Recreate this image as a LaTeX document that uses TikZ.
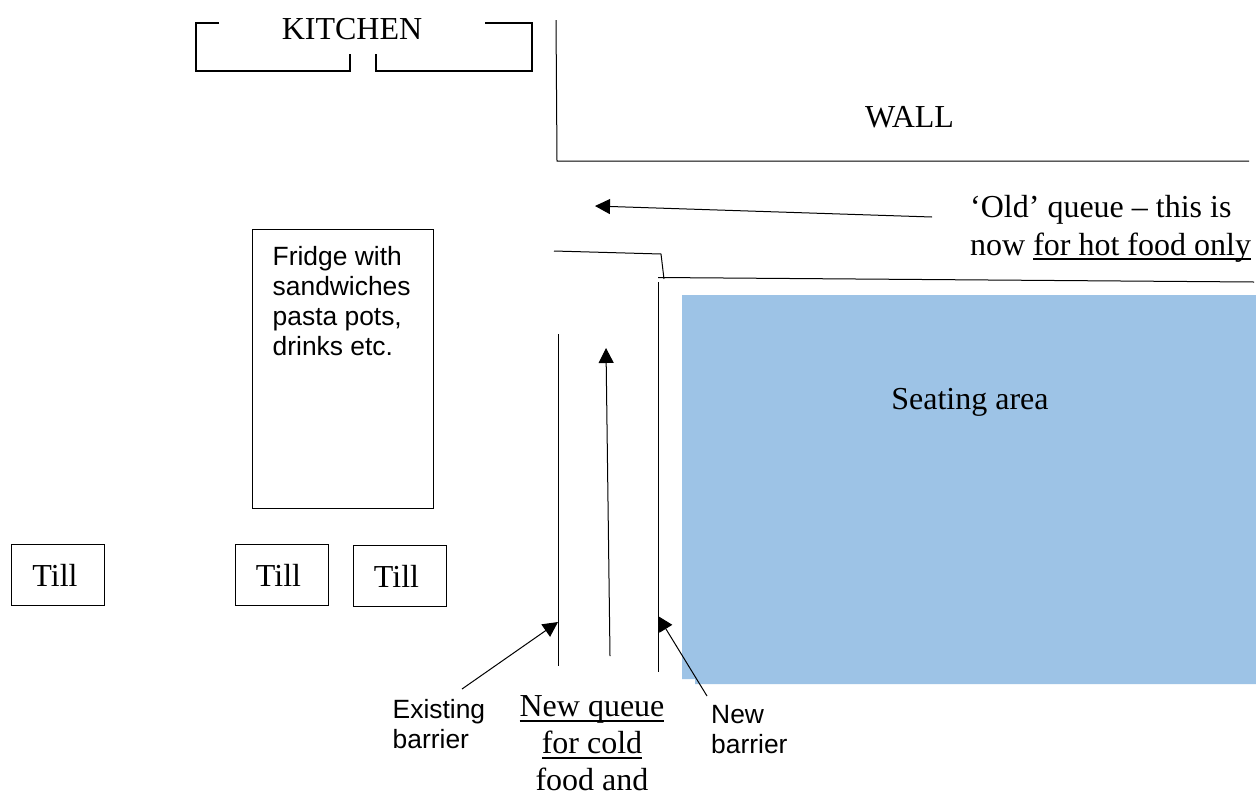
\documentclass[tikz,border=0pt]{standalone}
\usepackage{fontspec}
\setmainfont{Liberation Serif}
\newfontfamily\arialf{Liberation Sans}
\usetikzlibrary{arrows.meta}
\newcommand\ulin[2][-6pt]{\setbox0\hbox{#2}\rlap{\rule[#1]{\wd0}{2pt}}\box0}
\begin{document}
\begin{tikzpicture}[x=1pt,y=-1pt,
 ln/.style={draw=black,line width=1pt},
 thk/.style={draw=black,line width=2pt},
 arr/.style={ln,-{Triangle[length=15pt,width=15pt]}},
 ser/.style={inner sep=0pt,font=\fontsize{32}{37}\selectfont,align=center},
 san/.style={inner sep=0pt,font=\arialf\fontsize{26.4}{30}\selectfont,align=left},
 boxn/.style={ln,fill=white,inner sep=0pt}]
\useasboundingbox (0,0) rectangle (1256,796);
\fill[fill=white] (0,0) rectangle (1256,796);
\fill[fill={rgb,255:red,157;green,195;blue,230}] (682,295) -- (1256,295) -- (1256,684) -- (695,684) -- (695,679) -- (682,679) -- cycle;
% kitchen
\draw[thk] (219,23) -- (196,23) -- (196,71) -- (350,71) -- (350,54);
\draw[thk] (376,54) -- (376,71) -- (532,71) -- (532,23) -- (485,23);
\node[ser] (kit) at (352,29) {KITCHEN};
% wall
\coordinate (w1) at (556,20); \coordinate (w2) at (557,161); \coordinate (w3) at (1249,161);
\draw[ln] (w1) -- (w2) -- (w3);
\node[ser] (wall) at (909.5,117) {WALL};
% old queue
\coordinate (oq1) at (932,217); \coordinate (oq2) at (595,206);
\draw[arr] (oq1) -- (oq2);
\node[ser,anchor=north west,align=left,font=\fontsize{32}{38}\selectfont] (old) at (970,195) {`Old' queue -- this is\\now \ulin[-4.5pt]{for hot food only}};
% barriers top
\coordinate (b1) at (554,251); \coordinate (b2) at (661,254); \coordinate (b3) at (664,279);
\coordinate (b5) at (658,277.5); \coordinate (b4) at (1254,282);
\draw[ln] (b1) -- (b2) -- (b3);
\draw[ln] (b5) -- (b4);
% fridge
\node[boxn,minimum width=180.5pt,minimum height=279pt,anchor=north west] (fr) at (252,229) {};
\node[san,anchor=north west] (frt) at (272.5,246) {Fridge with\\sandwiches\\pasta pots,\\drinks etc.};
% tills
\node[boxn,ser,minimum width=92.5pt,minimum height=60.5pt] (t1) at (58,575) {Till\hspace{6pt}};
\node[boxn,ser,minimum width=92.5pt,minimum height=60.5pt] (t2) at (282,575) {Till\hspace{7pt}};
\node[boxn,ser,minimum width=92.5pt,minimum height=60.5pt] (t3) at (400,576) {Till\hspace{7pt}};
% barriers
\coordinate (e1) at (558,334); \coordinate (e2) at (558,666);
\draw[ln] (e1) -- (e2);
\coordinate (n1) at (658,282); \coordinate (n2) at (658,672);
\draw[ln] (n1) -- (n2);
\coordinate (q1) at (610,656); \coordinate (q2) at (606,348);
\draw[arr] (q1) -- (q2);
\node[ser] (seat) at (970,402) {Seating area};
% labels
\node[san,align=left,anchor=north west] (ex) at (392.5,699) {Existing\\barrier};
\node[san,align=left,anchor=north west] (nb) at (711,705) {New\\barrier};
\node[ser,anchor=north] (nq) at (592,695) {\ulin{New queue}\\\ulin{for cold}\\food and};
\coordinate (ea) at (462,689);
\coordinate (eb) at (558,622);
\draw[arr] (ea) -- (eb);
\coordinate (na) at (707,696);
\coordinate (nbb) at (658,616);
\draw[arr] (na) -- (nbb);
\end{tikzpicture}
\end{document}
